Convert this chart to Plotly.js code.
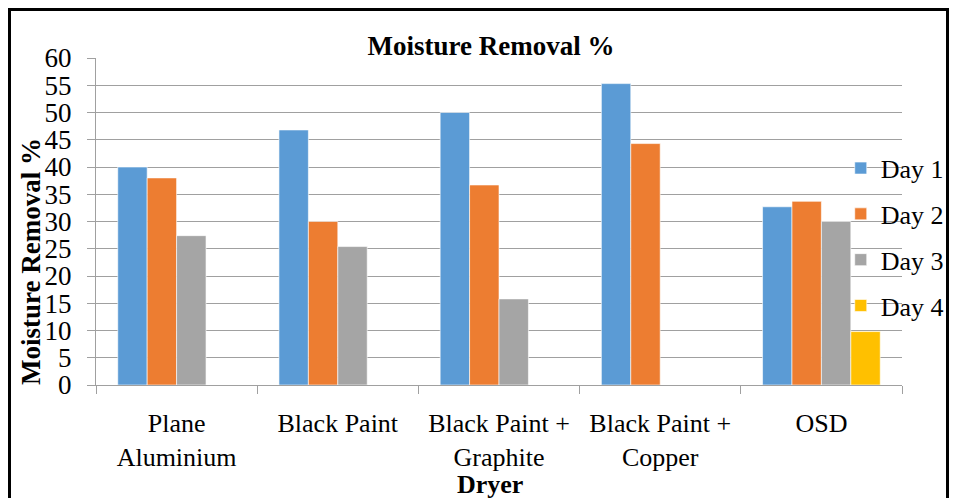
<!DOCTYPE html>
<html>
<head>
<meta charset="utf-8">
<script src="https://cdn.plot.ly/plotly-3.0.1.min.js"></script>
<style>
  body { margin: 0; padding: 0; background: #fff; }
  #wrap { position: relative; width: 958px; height: 498px; overflow: hidden; }
  #chart { position: absolute; left: 0; top: 0; width: 958px; height: 498px; }
  #frame { position: absolute; left: 8px; top: 8px; width: 935px; height: 600px; border: 3px solid #000; pointer-events: none; }
</style>
</head>
<body>
<div id="wrap">
  <div id="chart"></div>
  <div id="frame"></div>
</div>
<script>
const categories = ["Plane<br>Aluminium", "Black Paint", "Black Paint +<br>Graphite", "Black Paint +<br>Copper", "OSD"];
const seriesNames = ["Day 1", "Day 2", "Day 3", "Day 4"];
const day1 = [40.0, 46.8, 50.0, 55.3, 32.7];
const day2 = [38.0, 30.0, 36.7, 44.3, 33.7];
const day3 = [27.4, 25.4, 15.8, null, 30.0];
const day4 = [null, null, null, null, 9.8];
const colors = ["#5B9BD5", "#ED7D31", "#A5A5A5", "#FFC000"];

const seriesValues = [day1, day2, day3, day4];
const font = "Liberation Serif, Times New Roman, serif";

const traces = seriesValues.map((vals, i) => ({
  type: "bar",
  name: seriesNames[i],
  x: categories,
  y: vals,
  legendgroup: "g" + i,
  marker: { color: colors[i], line: { color: "rgba(255,255,255,0.6)", width: 1 } },
  hoverinfo: "x+y+name"
}));

const layout = {
  width: 958,
  height: 498,
  paper_bgcolor: "rgba(0,0,0,0)",
  plot_bgcolor: "rgba(0,0,0,0)",
  margin: { l: 96, r: 56, t: 58, b: 113, autoexpand: false },
  barmode: "group",
  bargap: 0.27,
  bargroupgap: 0,
  font: { family: font, color: "#000", size: 22 },
  title: {
    text: "<b>Moisture Removal %</b>",
    font: { family: font, size: 27, color: "#000" },
    x: 0.49, xref: "paper", xanchor: "center",
    y: 1 - 46 / 498, yref: "container", yanchor: "middle"
  },
  xaxis: {
    type: "category",
    tickson: "boundaries",
    ticks: "outside",
    ticklen: 8,
    tickcolor: "#a0a0a0",
    showline: true,
    linecolor: "#a0a0a0",
    linewidth: 1,
    showgrid: false,
    tickfont: { family: font, size: 26, color: "#000" },
    ticklabelstandoff: 15
  },
  yaxis: {
    range: [0, 60],
    dtick: 5,
    tick0: 0,
    ticks: "outside",
    ticklen: 8,
    tickcolor: "#a0a0a0",
    showline: true,
    linecolor: "#a0a0a0",
    linewidth: 1,
    showgrid: true,
    gridcolor: "#a0a0a0",
    gridwidth: 1,
    zeroline: false,
    tickfont: { family: font, size: 27, color: "#000" },
    ticklabelstandoff: 10
  },
  annotations: [{
    text: "<b>Moisture Removal %</b>",
    textangle: -90,
    xref: "paper", yref: "paper",
    x: (31 - 96) / 806, y: (385 - 262) / 327,
    xanchor: "center", yanchor: "middle",
    showarrow: false,
    font: { family: font, size: 27, color: "#000" }
  }, {
    text: "<b>Dryer</b>",
    xref: "paper", yref: "paper",
    x: (490 - 96) / 806, y: (385 - 484) / 327,
    xanchor: "center", yanchor: "middle",
    showarrow: false,
    font: { family: font, size: 26, color: "#000" }
  }],
  legend: {
    x: 1.058, xanchor: "right",
    y: 0.735, yanchor: "top",
    bgcolor: "rgba(0,0,0,0)",
    font: { family: font, size: 26, color: "#000" },
    traceorder: "grouped",
    tracegroupgap: 9,
    itemwidth: 30
  },
  showlegend: true
};

Plotly.newPlot("chart", traces, layout, { displayModeBar: false, staticPlot: true });
</script>
</body>
</html>
